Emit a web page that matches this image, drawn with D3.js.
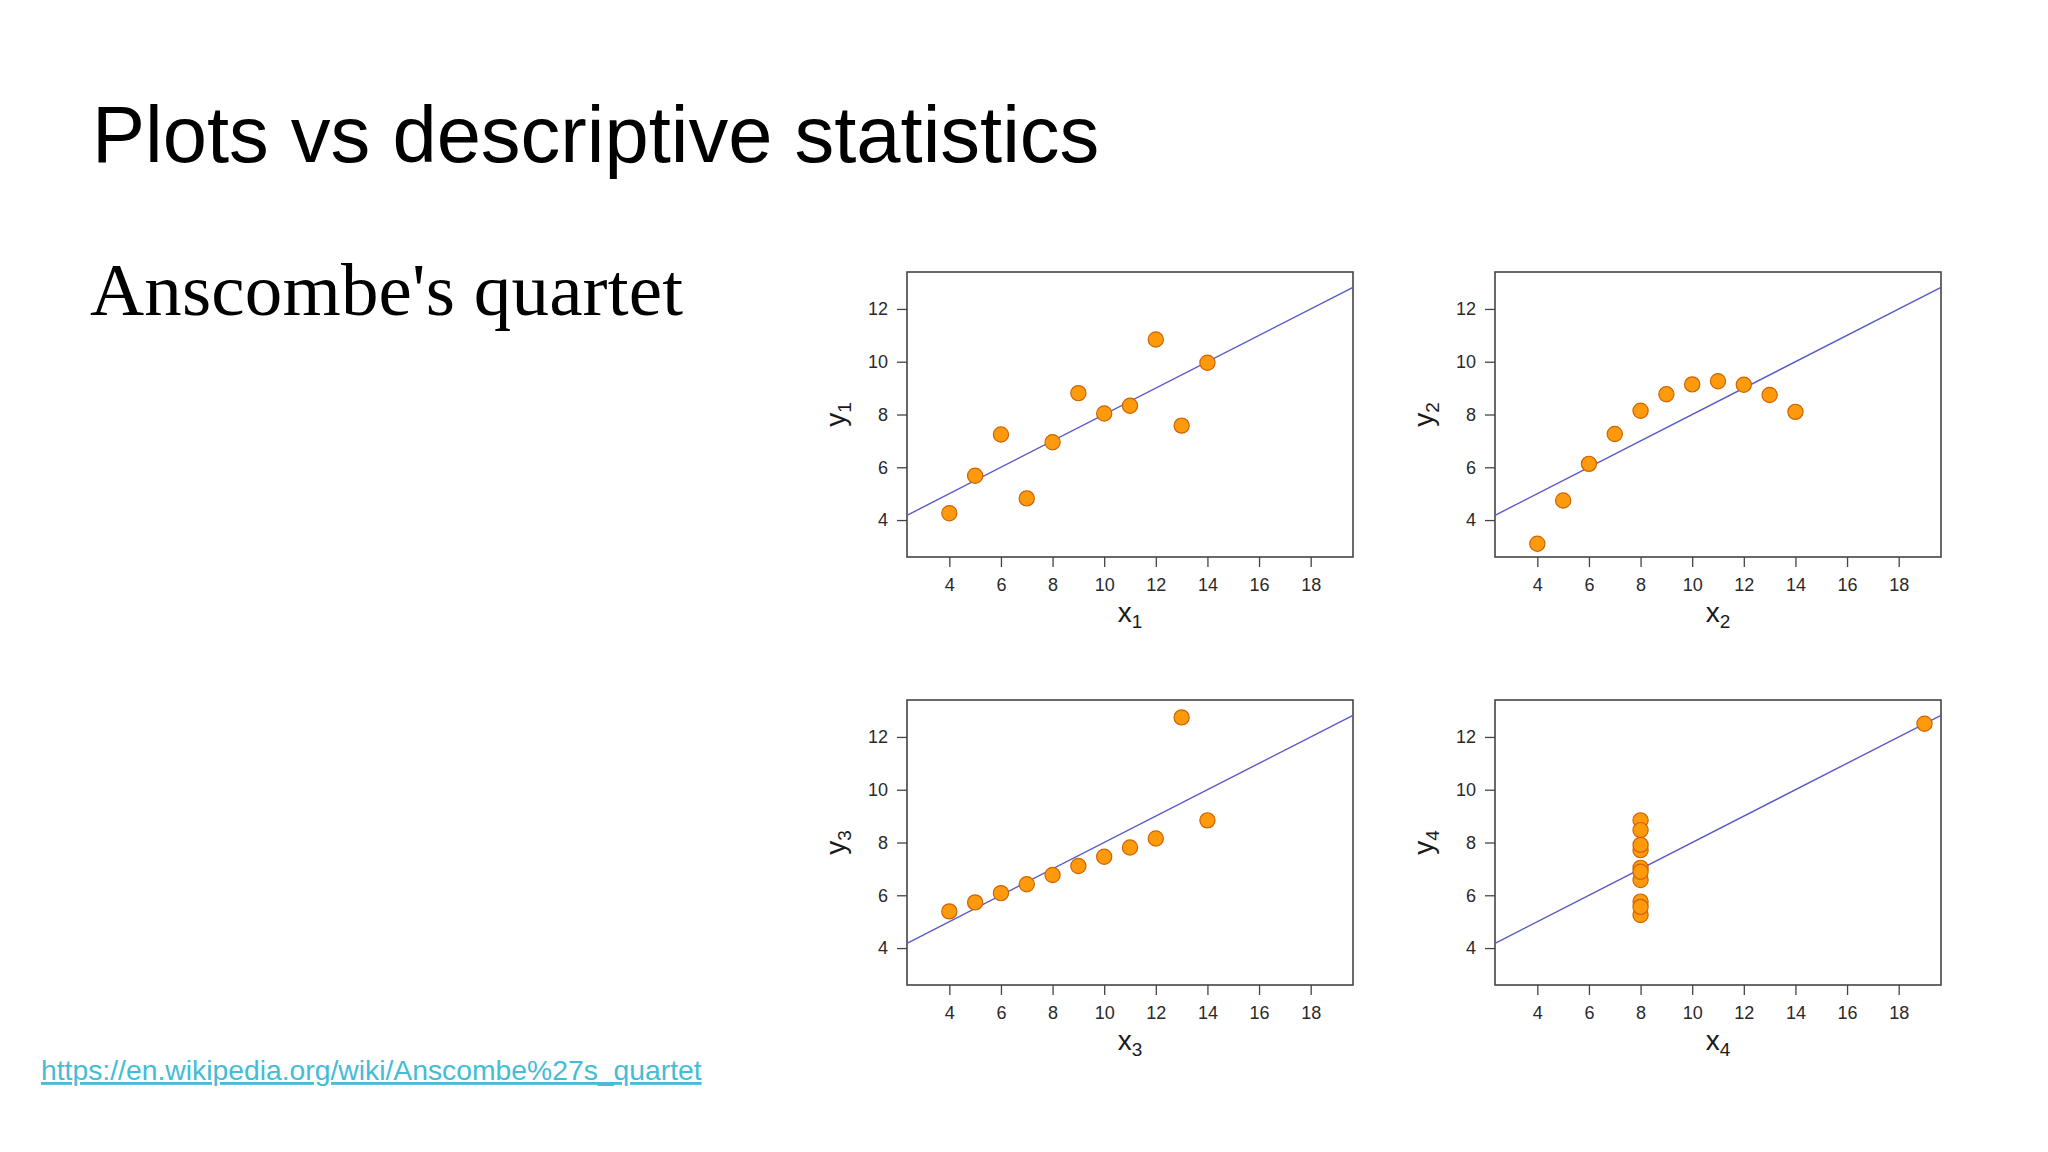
<!DOCTYPE html>
<html>
<head>
<meta charset="utf-8">
<script src="https://cdn.jsdelivr.net/npm/d3@7"></script>
<style>
  body { margin: 0; background: #fff; }
  svg { display: block; }
</style>
</head>
<body>
<svg id="slide" width="2048" height="1152"></svg>
<script>
// Anscombe's quartet values
var x123 = [10, 8, 13, 9, 11, 14, 6, 4, 12, 7, 5];
var y1 = [8.04, 6.95, 7.58, 8.81, 8.33, 9.96, 7.24, 4.26, 10.84, 4.82, 5.68];
var y2 = [9.14, 8.14, 8.74, 8.77, 9.26, 8.10, 6.13, 3.10, 9.13, 7.26, 4.74];
var y3 = [7.46, 6.77, 12.74, 7.11, 7.81, 8.84, 6.08, 5.39, 8.15, 6.42, 5.73];
var x4 = [8, 8, 8, 8, 8, 8, 8, 19, 8, 8, 8];
var y4 = [6.58, 5.76, 7.71, 8.84, 8.47, 7.04, 5.25, 12.50, 5.56, 7.91, 6.89];

var xTicks = [4, 6, 8, 10, 12, 14, 16, 18];
var yTicks = [4, 6, 8, 10, 12];
var xRange = [3, 19];
var yRange = [3, 13];

// fitted line, same for all four sets
var fitIntercept = 3.0;
var fitSlope = 0.5;

var panelNames = ['1', '2', '3', '4'];

(function() {
    var svg = d3.select('#slide');

    var opts = {
        panelWidth: 446,
        panelHeight: 285,
        pad: 0.04,
        lefts: [907, 1495],
        tops: [272, 700]
    };

    svg.append('text')
        .attr('x', 92)
        .attr('y', 162)
        .attr('font-family', 'Liberation Sans, Arial, sans-serif')
        .attr('font-size', '79.5px')
        .attr('fill', '#000')
        .text('Plots vs descriptive statistics');

    svg.append('text')
        .attr('x', 90)
        .attr('y', 315)
        .attr('font-family', 'Liberation Serif, Times New Roman, serif')
        .attr('font-size', '75px')
        .attr('textLength', 593)
        .attr('fill', '#000')
        .text("Anscombe's quartet");

    svg.append('text')
        .attr('x', 41)
        .attr('y', 1080)
        .attr('font-family', 'Liberation Sans, Arial, sans-serif')
        .attr('font-size', '28.3px')
        .attr('fill', '#45bcd6')
        .attr('text-decoration', 'underline')
        .text('https://en.wikipedia.org/wiki/Anscombe%27s_quartet');

    var sets = [
        {xs: x123, ys: y1},
        {xs: x123, ys: y2},
        {xs: x123, ys: y3},
        {xs: x4, ys: y4}
    ];

    sets.forEach(function(set, index) {
        drawPanel(set, index);
    });

    function extend(range) {
        var span = range[1] - range[0];
        return [range[0] - span * opts.pad, range[1] + span * opts.pad];
    }

    function drawPanel(set, index) {
        var left = opts.lefts[index % 2];
        var top = opts.tops[index >= 2 ? 1 : 0];
        var w = opts.panelWidth, h = opts.panelHeight;

        var x = d3.scaleLinear().domain(extend(xRange)).range([0, w]);
        var y = d3.scaleLinear().domain(extend(yRange)).range([h, 0]);

        var g = svg.append('g').attr('transform', 'translate(' + left + ',' + top + ')');

        var xAxis = g.append('g')
            .attr('transform', 'translate(0,' + h + ')')
            .call(d3.axisBottom(x).tickValues(xTicks).tickSize(10).tickPadding(11));
        var yAxis = g.append('g')
            .call(d3.axisLeft(y).tickValues(yTicks).tickSize(10).tickPadding(9));

        [xAxis, yAxis].forEach(function(ax) {
            ax.select('.domain').remove();
            ax.selectAll('line').attr('stroke', '#444').attr('stroke-width', 1.3);
            ax.selectAll('text')
                .attr('font-family', 'Liberation Sans, Arial, sans-serif')
                .attr('font-size', '18px')
                .attr('fill', '#2a2a2a');
        });

        g.append('rect')
            .attr('x', 0)
            .attr('y', 0)
            .attr('width', w)
            .attr('height', h)
            .attr('fill', 'none')
            .attr('stroke', '#444')
            .attr('stroke-width', 1.6);

        var d0 = x.domain()[0], d1 = x.domain()[1];
        g.append('line')
            .attr('x1', x(d0))
            .attr('y1', y(fitIntercept + fitSlope * d0))
            .attr('x2', x(d1))
            .attr('y2', y(fitIntercept + fitSlope * d1))
            .attr('stroke', '#5a5ac8')
            .attr('stroke-width', 1.4);

        g.selectAll('.pt').data(set.xs).enter()
            .append('circle')
            .attr('class', 'pt')
            .attr('cx', function(datum) { return x(datum); })
            .attr('cy', function(datum, i) { return y(set.ys[i]); })
            .attr('r', 7.6)
            .attr('fill', '#ff9a0c')
            .attr('stroke', '#cf6300')
            .attr('stroke-width', 1.2);

        var xt = g.append('text')
            .attr('x', w / 2)
            .attr('y', h + 65)
            .attr('text-anchor', 'middle')
            .attr('font-family', 'Liberation Sans, Arial, sans-serif')
            .attr('font-size', '28px')
            .attr('fill', '#1a1a1a');
        xt.append('tspan').text('x');
        xt.append('tspan').attr('font-size', '19px').attr('dy', 6).text(panelNames[index]);

        var yt = g.append('text')
            .attr('transform', 'translate(-62,' + (h / 2) + ') rotate(-90)')
            .attr('text-anchor', 'middle')
            .attr('font-family', 'Liberation Sans, Arial, sans-serif')
            .attr('font-size', '28px')
            .attr('fill', '#1a1a1a');
        yt.append('tspan').text('y');
        yt.append('tspan').attr('font-size', '19px').attr('dy', 6).text(panelNames[index]);
    }
})();
</script>
</body>
</html>
